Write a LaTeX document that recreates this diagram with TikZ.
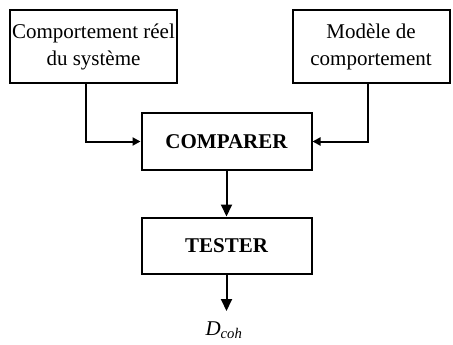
\documentclass[tikz,border=0pt]{standalone}
\usepackage{fontspec}
\setmainfont{Liberation Serif}
\usepackage{tikz}
\usetikzlibrary{arrows.meta,positioning}

\begin{document}
\begin{tikzpicture}[x=1pt,y=-1pt,line width=2pt,font=\fontsize{21}{27}\selectfont,
  blk/.style n args={2}{draw,rectangle,minimum width=#1pt,minimum height=#2pt,align=center,inner sep=0pt},
  arr/.style={-{Triangle[length=12pt,width=11pt]}},
  arrs/.style={-{Triangle[length=8pt,width=8pt]}}]
\useasboundingbox (0,0) rectangle (453,345);
\node[blk={167}{73}] (sys) at (93.5,46.5) {Comportement r\'eel\\du syst\`eme};
\node[blk={157}{73}] (mod) at (371,46.5) {Mod\`ele de\\comportement};
\node[blk={170}{56},font=\fontsize{21}{27}\selectfont\bfseries] (cmp) at (226.5,141.5) {COMPARER};
\node[blk={170}{56},font=\fontsize{21}{27}\selectfont\bfseries] (tst) at (226.5,245.5) {TESTER};
\node (dcoh) at (224,330) {\itshape D\textsubscript{coh}};
\coordinate (out) at (226.5,311);
% liaisons
\draw[arrs] ([xshift=-8pt]sys.south) |- (cmp.west);
\draw[arrs] ([xshift=-3pt]mod.south) |- (cmp.east);
\draw[arr] (cmp) -- (tst);
\draw[arr] (tst) -- (out);
\end{tikzpicture}
\end{document}
